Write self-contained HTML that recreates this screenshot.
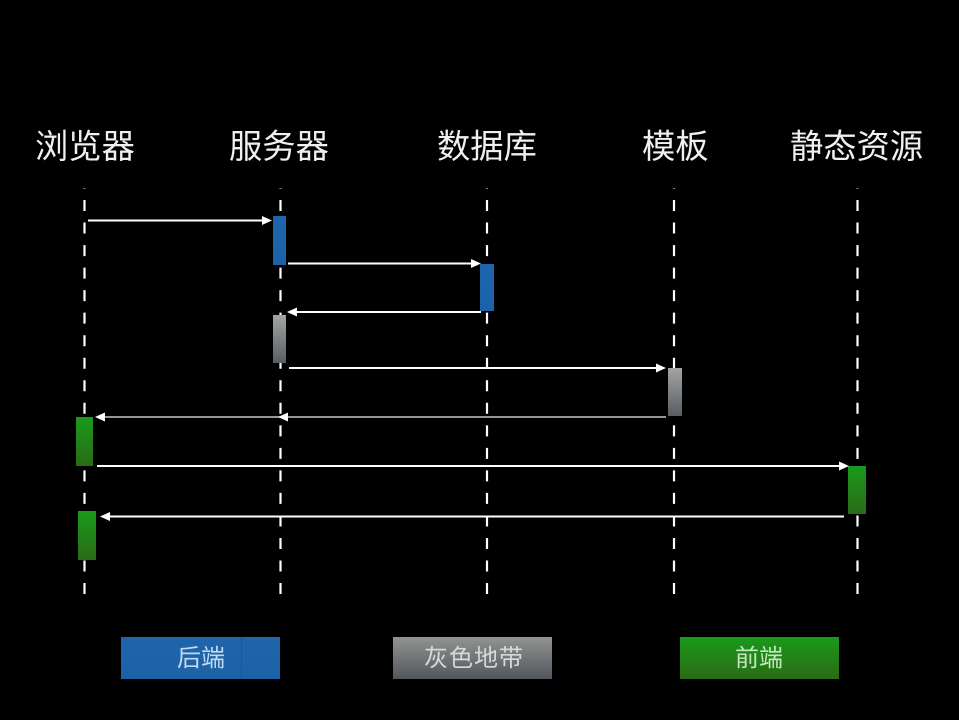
<!DOCTYPE html>
<html><head><meta charset="utf-8"><style>
html,body{margin:0;padding:0;background:#000;width:959px;height:720px;overflow:hidden}
svg{display:block}
text{font-family:"Liberation Sans","WenQuanYi Zen Hei","Noto Sans CJK SC",sans-serif}
</style></head><body>
<svg width="959" height="720" viewBox="0 0 959 720" xmlns="http://www.w3.org/2000/svg">
<defs>
<linearGradient id="bl" x1="0" y1="0" x2="0" y2="1"><stop offset="0" stop-color="#1f65ab"/><stop offset="1" stop-color="#1c62a8"/></linearGradient>
<linearGradient id="gr" x1="0" y1="0" x2="0" y2="1"><stop offset="0" stop-color="#a3a5a4"/><stop offset="1" stop-color="#595d62"/></linearGradient>
<linearGradient id="lg" x1="0" y1="0" x2="0" y2="1"><stop offset="0" stop-color="#929492"/><stop offset="1" stop-color="#52575d"/></linearGradient>
<linearGradient id="gn" x1="0" y1="0" x2="0" y2="1"><stop offset="0" stop-color="#1a9a1a"/><stop offset="1" stop-color="#2a6b16"/></linearGradient>
</defs>
<rect width="959" height="720" fill="#000"/>
<g fill="#f0f0f0" font-size="33.3">
<text x="35" y="158">浏览器</text>
<text x="229" y="158">服务器</text>
<text x="437" y="158">数据库</text>
<text x="642" y="158">模板</text>
<text x="790" y="158">静态资源</text>
</g>
<g stroke="#fff" stroke-width="2.2" stroke-dasharray="11 11.53" stroke-dashoffset="10.5" fill="none">
<line x1="84.5" y1="188" x2="84.5" y2="595"/>
<line x1="280.5" y1="188" x2="280.5" y2="595"/>
<line x1="487" y1="188" x2="487" y2="595"/>
<line x1="674" y1="188" x2="674" y2="595"/>
<line x1="857.5" y1="188" x2="857.5" y2="595"/>
</g>
<rect x="273" y="216" width="13" height="49" fill="url(#bl)"/>
<rect x="480" y="264" width="14" height="47" fill="url(#bl)"/>
<rect x="273" y="315" width="13" height="48" fill="url(#gr)"/>
<rect x="668" y="368" width="14" height="48" fill="url(#gr)"/>
<rect x="76" y="417" width="17" height="49" fill="url(#gn)"/>
<rect x="848" y="466" width="18" height="48" fill="url(#gn)"/>
<rect x="78" y="511" width="18" height="49" fill="url(#gn)"/>
<g stroke="#fff" stroke-width="2">
<line x1="88" y1="220.5" x2="264" y2="220.5"/>
<line x1="288" y1="263.5" x2="473" y2="263.5"/>
<line x1="296" y1="312" x2="481" y2="312"/>
<line x1="289" y1="368" x2="658" y2="368"/>
<line x1="97" y1="466" x2="841" y2="466"/>
<line x1="109" y1="516.5" x2="844" y2="516.5"/>
<line x1="103" y1="417" x2="666" y2="417" stroke="#c8c8c8" stroke-width="1.6"/>
</g>
<g fill="#fff">
<path d="M272 220.5l-10-4.5v9z"/>
<path d="M481 263.5l-10-4.5v9z"/>
<path d="M287 312l10-4.5v9z"/>
<path d="M666 368l-10-4.5v9z"/>
<path d="M278 417l10-4.5v9z"/>
<path d="M95 417l10-4.5v9z"/>
<path d="M849 466l-10-4.5v9z"/>
<path d="M100 516.5l10-4.5v9z"/>
</g>
<rect x="121" y="637" width="159" height="42" fill="url(#bl)"/>
<rect x="241" y="637" width="1" height="42" fill="#185895"/>
<rect x="393" y="637" width="159" height="42" fill="url(#lg)"/>
<rect x="680" y="637" width="159" height="42" fill="url(#gn)"/>
<g font-size="24">
<text x="177" y="666" fill="#c4d9ee">后端</text>
<text x="424" y="666" fill="#d8d8d8" letter-spacing="1">灰色地带</text>
<text x="735" y="666" fill="#c2e8bc">前端</text>
</g>
</svg>
</body></html>
